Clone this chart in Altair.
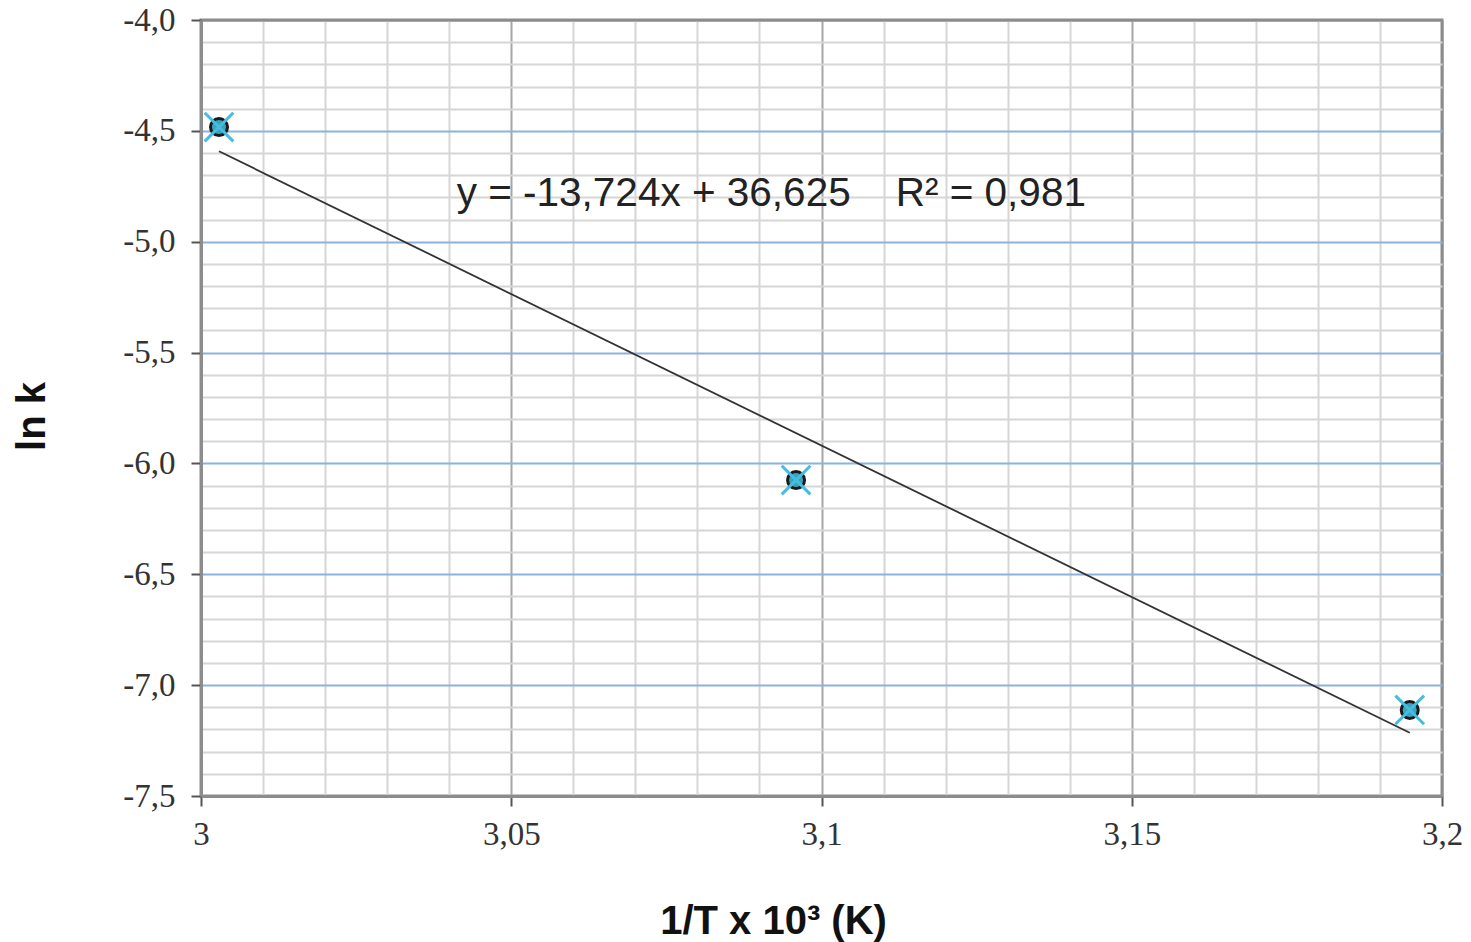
import altair as alt
import pandas as pd

# data
inv_T = [3.0029, 3.0959, 3.1948]
ln_k = [-4.483, -6.075, -7.112]

NB = "\u00a0"
equation_text = ["y = -13,724x + 36,625" + NB * 4 + "R\u00b2 = 0,981"]
equation_x = [3.0412]
equation_y = [-4.84]

x_ticks = [3.0, 3.01, 3.02, 3.03, 3.04, 3.05, 3.06, 3.07, 3.08, 3.09, 3.1,
           3.11, 3.12, 3.13, 3.14, 3.15, 3.16, 3.17, 3.18, 3.19, 3.2]
y_ticks = [-7.5, -7.4, -7.3, -7.2, -7.1, -7.0, -6.9, -6.8, -6.7, -6.6, -6.5,
           -6.4, -6.3, -6.2, -6.1, -6.0, -5.9, -5.8, -5.7, -5.6, -5.5,
           -5.4, -5.3, -5.2, -5.1, -5.0, -4.9, -4.8, -4.7, -4.6, -4.5,
           -4.4, -4.3, -4.2, -4.1, -4.0]

df = pd.DataFrame({"x": inv_T, "y": ln_k})
ann = pd.DataFrame({"x": equation_x, "y": equation_y, "t": equation_text})

x_major = "round(datum.value*100) % 5 == 0"
y_major = "round(datum.value*10) % 5 == 0"

x_scale = alt.Scale(domain=[3.0, 3.2], nice=False, zero=False)
y_scale = alt.Scale(domain=[-7.5, -4.0], nice=False, zero=False)

BORDER = "#8c8c8c"

x_axis = alt.Axis(
    title="1/T x 10\u00b3 (K)",
    values=x_ticks,
    labelExpr=f"({x_major}) ? replace(format(datum.value, '~g'), '.', ',') : ''",
    labelFont="Liberation Serif", labelFontSize=33, labelColor="#333333",
    labelPadding=12, labelFlush=False, labelOverlap=False,
    tickSize=10, tickWidth=2, tickColor="#555555",
    tickOpacity={"condition": {"test": x_major, "value": 1}, "value": 0},
    domainColor=BORDER, domainWidth=3,
    grid=True,
    gridColor={"condition": [{"test": "datum.value > 3.195", "value": BORDER},
                             {"test": x_major, "value": "#a6a6a6"}],
               "value": "#d6d6d6"},
    gridWidth=2,
    titleFont="Liberation Sans", titleFontSize=40, titleFontWeight="bold", titleColor="#111111",
    titleX=572, titleY=137, titleBaseline="alphabetic", titleAlign="center",
)

y_axis = alt.Axis(
    title="ln k",
    values=y_ticks,
    labelExpr=f"({y_major}) ? (datum.value < 0 ? '-' : '') + replace(format(abs(datum.value), '.1f'), '.', ',') : ''",
    labelFont="Liberation Serif", labelFontSize=33, labelColor="#333333",
    labelPadding=16, labelFlush=False, labelOverlap=False,
    tickSize=10, tickWidth=2, tickColor="#555555",
    tickOpacity={"condition": {"test": y_major, "value": 1}, "value": 0},
    domainColor=BORDER, domainWidth=3,
    grid=True,
    gridColor={"condition": [{"test": "datum.value > -4.05", "value": BORDER},
                             {"test": y_major, "value": "#8eb2de"}],
               "value": "#d6d6d6"},
    gridWidth=2,
    titleFont="Liberation Sans", titleFontSize=40, titleFontWeight="bold", titleColor="#111111",
    titleAngle=270, titleX=-157, titleY=396, titleAlign="center", titleBaseline="alphabetic",
)

X = alt.X("x:Q", scale=x_scale, axis=x_axis)
Y = alt.Y("y:Q", scale=y_scale, axis=y_axis)

base = alt.Chart(df)

trend = base.transform_regression("x", "y").mark_line(
    color="#333333", strokeWidth=1.8
).encode(x=X, y=Y)

circles = base.mark_point(
    shape="circle", size=290, filled=True, fill="#3aa3bd", stroke="#1a1a1a",
    strokeWidth=3, opacity=1
).encode(x=X, y=Y)

crosses = base.mark_point(
    shape="M-1,-1L1,1M-1,1L1,-1", size=820, filled=False, stroke="#45bde0",
    strokeWidth=3, opacity=1
).encode(x=X, y=Y)

label = alt.Chart(ann).mark_text(
    align="left", baseline="alphabetic", font="Liberation Sans", fontSize=40.5,
    color="#222222"
).encode(x=X, y=Y, text="t:N")

chart = alt.layer(trend, circles, crosses, label).properties(
    width=1241, height=776, autosize="none",
    padding={"left": 201, "top": 20, "right": 29, "bottom": 146},
    background="white",
).configure_view(stroke=BORDER, strokeWidth=3)

chart.save("out.html", embed_options={"renderer": "svg", "actions": False})
